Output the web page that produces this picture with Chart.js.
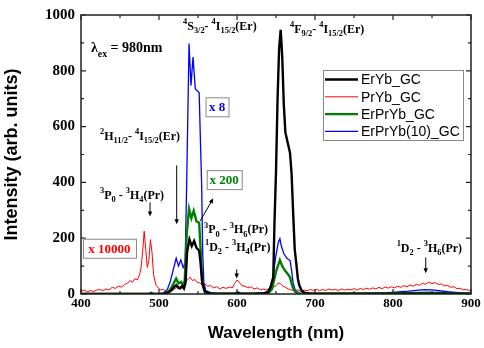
<!DOCTYPE html>
<html>
<head>
<meta charset="utf-8">
<title>Upconversion emission spectra</title>
<script src="https://cdn.jsdelivr.net/npm/chart.js@4.4.1/dist/chart.umd.min.js"></script>
<style>
  html, body { margin: 0; padding: 0; background: #fff; }
</style>
</head>
<body>
<canvas id="spectrum" width="484" height="348"></canvas>
<script>
// Series (wavelength in nm, intensity in arb. units)
const seriesNames = ['ErYb_GC', 'PrYb_GC', 'ErPrYb_GC', 'ErPrYb(10)_GC'];

const erYbWl  = [400, 500, 506, 512, 516, 519, 522, 525, 527, 530, 532, 534, 536, 539, 542, 545, 548, 551.5, 553, 555.5, 559, 565, 580, 598, 601, 604, 620, 635, 640, 643, 646.5, 648, 650, 652, 654, 656, 658, 660, 662, 664, 666, 668, 670, 672, 674, 676, 678, 680, 683, 687, 695, 900];
const erYbVal = [0, 0, 1, 5, 14, 24, 32, 22, 20, 28, 20, 40, 150, 196, 172, 190, 166, 155, 120, 38, 8, 2, 1, 2, 5, 2, 1, 3, 8, 25, 61, 250, 437, 700, 880, 947, 850, 680, 580, 555, 530, 505, 430, 290, 160, 110, 55, 30, 12, 4, 1, 1];

const prYbWl  = [400, 404, 408, 412, 416, 420, 424, 428, 432, 436, 440, 444, 448, 452, 456, 460, 463, 466, 469, 472, 475, 477, 479, 481, 483, 485, 487, 489, 491, 493, 496, 499, 502, 506, 510, 514, 518, 522, 526, 530, 534, 537, 540, 543, 546, 549, 552, 555, 558, 562, 566, 570, 574, 578, 582, 586, 590, 594, 597, 600, 603, 606, 610, 614, 618, 622, 626, 630, 634, 638, 642, 646, 650, 653, 656, 659, 662, 666, 670, 674, 678, 682, 686, 690, 694, 698, 702, 706, 710, 714, 718, 722, 726, 730, 734, 738, 742, 746, 750, 754, 758, 762, 766, 770, 774, 778, 782, 786, 790, 794, 798, 802, 806, 810, 814, 818, 822, 826, 830, 834, 838, 842, 846, 850, 854, 858, 862, 866, 870, 874, 878, 882, 886, 890, 894, 898, 900];
const prYbVal = [10, 14, 8, 12, 9, 14, 16, 12, 18, 15, 24, 20, 28, 25, 34, 40, 48, 42, 55, 50, 68, 95, 150, 225, 160, 95, 120, 195, 150, 70, 32, 22, 15, 16, 8, 9, 14, 22, 28, 26, 45, 52, 60, 48, 52, 42, 40, 35, 38, 28, 30, 22, 26, 18, 24, 20, 25, 22, 38, 50, 42, 30, 28, 22, 26, 18, 22, 15, 18, 14, 20, 24, 30, 40, 36, 28, 24, 18, 14, 12, 15, 10, 14, 12, 16, 13, 17, 12, 16, 13, 18, 14, 17, 12, 18, 14, 17, 15, 19, 14, 20, 16, 21, 17, 22, 18, 24, 19, 25, 21, 26, 22, 28, 24, 30, 26, 32, 28, 35, 31, 39, 35, 43, 37, 41, 34, 36, 29, 31, 24, 26, 19, 21, 15, 17, 12, 14];

const erPrYbWl  = [400, 505, 512, 516, 519, 522, 525, 528.5, 531, 533, 535.5, 538.5, 541.5, 544.5, 548, 551.5, 553.4, 555.5, 559, 565, 640, 645, 650, 655, 658, 662, 666, 668, 670, 672, 675, 680, 800, 845, 880, 900];
const erPrYbVal = [0, 1, 8, 22, 40, 55, 38, 43, 26, 49, 214, 305, 272, 298, 261, 255, 155, 38, 6, 1, 2, 18, 80, 122, 100, 82, 68, 60, 38, 20, 6, 1, 2, 5, 2, 1];

const erPrYb10Wl  = [400, 486, 490, 494, 505, 510, 514, 518, 522, 525, 528, 531, 533.5, 535.5, 538.5, 541, 543.6, 546.5, 548.5, 551.5, 553, 554.7, 556, 557.5, 560, 566, 575, 630, 640, 645, 650, 653, 655, 657, 660, 664, 668, 670, 672, 675, 680, 690, 760, 790, 820, 840, 850, 870, 890, 900];
const erPrYb10Val = [0, 0, 6, 0, 3, 12, 40, 84, 128, 100, 122, 95, 110, 400, 898, 747, 849, 736, 729, 722, 560, 390, 150, 40, 12, 5, 1, 1, 8, 40, 140, 185, 198, 170, 145, 128, 120, 85, 38, 12, 3, 1, 1, 4, 10, 16, 15, 8, 3, 2];

const xTickStep = 100;
const yTickStep = 200;

// Styling
const lineColors = ['#000000', '#ff0000', '#008000', '#0000ff'];
const lineWidths = [2.4, 1, 2.4, 1.3];
const drawOrder  = [1, 4, 2, 3];

const serif = '"Liberation Serif", "Times New Roman", serif';
const sans  = '"Liberation Sans", Arial, sans-serif';

function toPoints(wl, val) {
  return wl.map((w, i) => ({ x: w, y: val[i] }));
}

const allWl  = [erYbWl, prYbWl, erPrYbWl, erPrYb10Wl];
const allVal = [erYbVal, prYbVal, erPrYbVal, erPrYb10Val];

// Annotations, placed in data coordinates
const labels = [
  { text: 'λ_{ex} = 980nm', x: 412.8, y: 866, size: 14 },
  { text: '^{4}S_{3/2}- ^{4}I_{15/2}(Er)', x: 530.8, y: 947, size: 12 },
  { text: '^{4}F_{9/2}- ^{4}I_{15/2}(Er)', x: 668, y: 937, size: 12 },
  { text: '^{2}H_{11/2}- ^{4}I_{15/2}(Er)', x: 424.4, y: 553, size: 12 },
  { text: '^{3}P_{0} - ^{3}H_{4}(Pr)', x: 424.4, y: 342, size: 12 },
  { text: '^{3}P_{0} - ^{3}H_{6}(Pr)', x: 557.7, y: 218, size: 12 },
  { text: '^{1}D_{2} - ^{3}H_{4}(Pr)', x: 559, y: 155, size: 12 },
  { text: '^{1}D_{2} - ^{3}H_{6}(Pr)', x: 804.7, y: 152, size: 12 }
];
const factorBoxes = [
  { text: 'x 8', x: 574.4, y: 671, w: 23, h: 19, color: '#0000ff' },
  { text: 'x 200', x: 583.6, y: 410, w: 35, h: 19, color: '#008000' },
  { text: 'x 10000', x: 436.5, y: 164, w: 53, h: 19, color: '#ff0000' }
];
const arrows = [
  { x1: 522.7, y1: 461, x2: 522.7, y2: 250 },
  { x1: 488.5, y1: 328, x2: 488.5, y2: 278 },
  { x1: 599.6, y1: 88, x2: 599.6, y2: 56 },
  { x1: 842, y1: 131, x2: 842, y2: 74 },
  { x1: 552.6, y1: 261, x2: 569.6, y2: 343 }
];

function drawRich(ctx, text, x, y, size, color) {
  const parts = text.match(/\^\{[^}]*\}|_\{[^}]*\}|[^^_]+/g);
  ctx.fillStyle = color;
  ctx.textAlign = 'left';
  ctx.textBaseline = 'alphabetic';
  parts.forEach(p => {
    let t = p, s = size, dy = 0;
    if (p[0] === '^') { t = p.slice(2, -1); s = size * 0.7; dy = -size * 0.45; }
    else if (p[0] === '_') { t = p.slice(2, -1); s = size * 0.7; dy = size * 0.3; }
    ctx.font = `bold ${s}px ${serif}`;
    ctx.fillText(t, x, y + dy);
    x += ctx.measureText(t).width;
  });
}

function arrow(ctx, x1, y1, x2, y2) {
  const a = Math.atan2(y2 - y1, x2 - x1);
  const head = 5;
  ctx.beginPath();
  ctx.moveTo(x1, y1);
  ctx.lineTo(x2 - Math.cos(a) * head * 0.8, y2 - Math.sin(a) * head * 0.8);
  ctx.stroke();
  ctx.beginPath();
  ctx.moveTo(x2, y2);
  ctx.lineTo(x2 - head * Math.cos(a) + 2.2 * Math.sin(a), y2 - head * Math.sin(a) - 2.2 * Math.cos(a));
  ctx.lineTo(x2 - head * Math.cos(a) - 2.2 * Math.sin(a), y2 - head * Math.sin(a) + 2.2 * Math.cos(a));
  ctx.closePath();
  ctx.fill();
}

// Frame, inward ticks, notes and legend
const decorations = {
  id: 'decorations',
  afterDatasetsDraw(chart) {
    const { ctx, chartArea: area, scales: { x, y } } = chart;
    ctx.save();

    // ticks on all four sides
    ctx.strokeStyle = '#222';
    ctx.lineWidth = 1.2;
    for (let v = x.min; v <= x.max; v += xTickStep / 2) {
      const px = x.getPixelForValue(v);
      const len = (v - x.min) % xTickStep === 0 ? 5 : 3;
      ctx.beginPath();
      ctx.moveTo(px, area.bottom); ctx.lineTo(px, area.bottom - len);
      ctx.moveTo(px, area.top); ctx.lineTo(px, area.top + len);
      ctx.stroke();
    }
    for (let v = y.min; v <= y.max; v += yTickStep / 2) {
      const py = y.getPixelForValue(v);
      const len = (v - y.min) % yTickStep === 0 ? 5 : 3;
      ctx.beginPath();
      ctx.moveTo(area.left, py); ctx.lineTo(area.left + len, py);
      ctx.moveTo(area.right, py); ctx.lineTo(area.right - len, py);
      ctx.stroke();
    }
    ctx.lineWidth = 1.5;
    ctx.strokeRect(area.left, area.top, area.right - area.left, area.bottom - area.top);

    // text notes
    labels.forEach(l => drawRich(ctx, l.text, x.getPixelForValue(l.x), y.getPixelForValue(l.y), l.size, '#000'));

    ctx.strokeStyle = '#000';
    ctx.fillStyle = '#000';
    ctx.lineWidth = 1;
    arrows.forEach(a => arrow(ctx, x.getPixelForValue(a.x1), y.getPixelForValue(a.y1),
                                   x.getPixelForValue(a.x2), y.getPixelForValue(a.y2)));

    factorBoxes.forEach(b => {
      const cx = x.getPixelForValue(b.x), cy = y.getPixelForValue(b.y);
      ctx.fillStyle = '#fff';
      ctx.fillRect(cx - b.w / 2, cy - b.h / 2, b.w, b.h);
      ctx.strokeStyle = '#888';
      ctx.lineWidth = 1;
      ctx.strokeRect(cx - b.w / 2 + 0.5, cy - b.h / 2 + 0.5, b.w, b.h);
      ctx.fillStyle = b.color;
      ctx.font = `bold 13px ${serif}`;
      ctx.textAlign = 'center';
      ctx.textBaseline = 'middle';
      ctx.fillText(b.text, cx, cy + 1);
    });

    // legend inside the plot
    const lx = area.right - 148, ly = area.top + 55, lw = 140, lh = 70;
    ctx.fillStyle = '#fff';
    ctx.fillRect(lx, ly, lw, lh);
    ctx.strokeStyle = '#888';
    ctx.lineWidth = 1;
    ctx.strokeRect(lx + 0.5, ly + 0.5, lw, lh);
    chart.data.datasets.forEach((ds, i) => {
      const ry = ly + 9.5 + i * 17.3;
      ctx.strokeStyle = ds.borderColor;
      ctx.lineWidth = ds.borderWidth;
      ctx.beginPath();
      ctx.moveTo(lx + 2, ry); ctx.lineTo(lx + 35, ry);
      ctx.stroke();
      ctx.fillStyle = '#000';
      ctx.font = `14px ${sans}`;
      ctx.textAlign = 'left';
      ctx.textBaseline = 'middle';
      ctx.fillText(ds.label, lx + 38, ry + 1);
    });

    ctx.restore();
  }
};

const ctx = document.getElementById('spectrum').getContext('2d');
new Chart(ctx, {
  type: 'line',
  data: {
    datasets: seriesNames.map((name, i) => ({
      label: name,
      data: toPoints(allWl[i], allVal[i]),
      borderColor: lineColors[i],
      borderWidth: lineWidths[i],
      pointRadius: 0,
      tension: 0,
      fill: false,
      order: drawOrder[i]
    }))
  },
  options: {
    responsive: false,
    animation: false,
    devicePixelRatio: 1,
    layout: { padding: { top: 10, right: 13, left: 0, bottom: 0 } },
    plugins: { legend: { display: false }, tooltip: { enabled: false } },
    scales: {
      x: {
        type: 'linear', min: 400, max: 900,
        grid: { display: false, drawTicks: false },
        border: { display: false },
        ticks: { stepSize: xTickStep, maxRotation: 0, padding: 2, color: '#000',
                 callback: v => String(v),
                 font: { family: serif, weight: 'bold', size: 13 } },
        title: { display: true, text: 'Wavelength (nm)', color: '#000',
                 font: { family: sans, weight: 'bold', size: 17 }, padding: { top: 0, bottom: 4 } },
        afterFit: s => { s.height = 54; }
      },
      y: {
        type: 'linear', min: 0, max: 1000,
        grid: { display: false, drawTicks: false },
        border: { display: false },
        ticks: { stepSize: yTickStep, padding: 6, color: '#000',
                 callback: v => String(v),
                 font: { family: serif, weight: 'bold', size: 15 } },
        title: { display: true, text: 'Intensity (arb. units)', color: '#000',
                 font: { family: sans, weight: 'bold', size: 18 }, padding: { top: 1, bottom: 0 } },
        afterFit: s => { s.width = 81; }
      }
    }
  },
  plugins: [decorations]
});
</script>
</body>
</html>
